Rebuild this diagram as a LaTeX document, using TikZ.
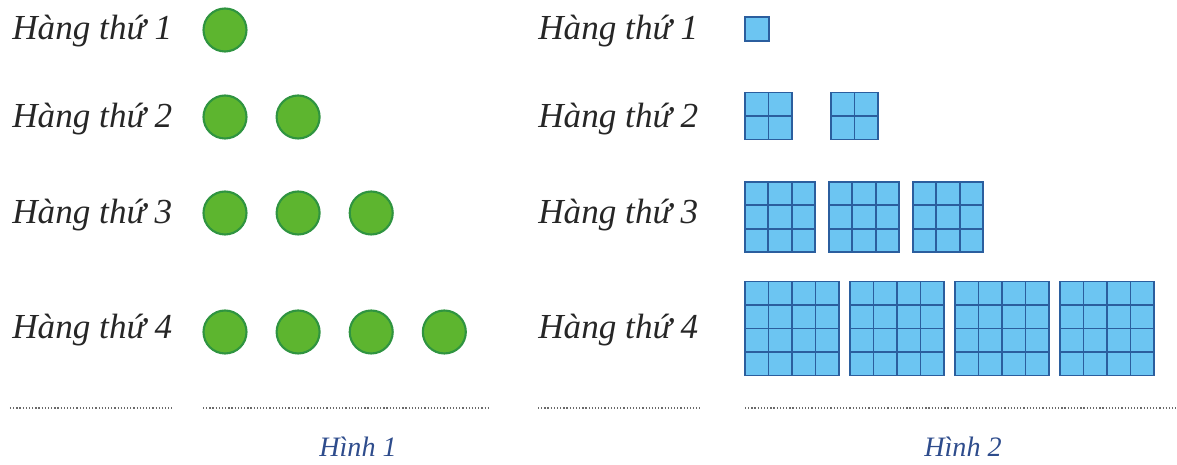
\documentclass[tikz,border=0pt]{standalone}
\usepackage{fontspec}
\setmainfont{Liberation Serif}
\usetikzlibrary{positioning}
\definecolor{dotgreen}{HTML}{5DB52F}
\definecolor{dotedge}{HTML}{2F9440}
\definecolor{tileblue}{HTML}{6CC5F2}
\definecolor{tileedge}{HTML}{2B5E9E}
\definecolor{captionblue}{HTML}{2E4C8C}
\definecolor{blankgrey}{HTML}{6A6A6A}
\tikzset{
  rowlabel/.style={anchor=base west, inner sep=0, text=black!85,
                   font=\fontsize{20}{24}\selectfont\itshape},
  greendot/.style={circle, draw=dotedge, fill=dotgreen, line width=1.2pt,
                   minimum size=0.86cm, inner sep=0},
  tile/.style={rectangle, draw=tileedge, fill=tileblue, line width=1.1pt,
               inner sep=0, outer sep=0},
  tileone/.style={tile, minimum size=0.48cm},
  tiletwo/.style={tile, minimum size=0.94cm},
  tilethree/.style={tile, minimum size=1.4cm},
  tilefour/.style={tile, minimum size=1.88cm},
  gridline/.style={draw=tileedge, line width=1.1pt},
  blank/.style={draw=blankgrey, line width=0.7pt, dash pattern=on 0.7pt off 1.1pt},
  caption/.style={font=\fontsize{16}{19}\selectfont\itshape, text=captionblue},
}
\begin{document}
\begin{tikzpicture}
  \useasboundingbox (0,0) rectangle (23.54,9.3);

  % --- Hinh 1: row labels and dots ---
  \node[rowlabel] (lrow1) at (0.24,8.5)  {Hàng thứ 1};
  \node[rowlabel] (lrow2) at (0.24,6.74) {Hàng thứ 2};
  \node[rowlabel] (lrow3) at (0.24,4.82) {Hàng thứ 3};
  \node[rowlabel] (lrow4) at (0.24,2.52) {Hàng thứ 4};

  \node[greendot] (c11) at (4.5,8.7) {};

  \node[greendot] (c21) at (4.5,6.96) {};
  \node[greendot, right=0.56cm of c21] (c22) {};

  \node[greendot] (c31) at (4.5,5.04) {};
  \node[greendot, right=0.56cm of c31] (c32) {};
  \node[greendot, right=0.56cm of c32] (c33) {};

  \node[greendot] (c41) at (4.5,2.66) {};
  \node[greendot, right=0.56cm of c41] (c42) {};
  \node[greendot, right=0.56cm of c42] (c43) {};
  \node[greendot, right=0.56cm of c43] (c44) {};

  % --- Hinh 2: row labels and tiles ---
  \node[rowlabel] (rrow1) at (10.76,8.5)  {Hàng thứ 1};
  \node[rowlabel] (rrow2) at (10.76,6.74) {Hàng thứ 2};
  \node[rowlabel] (rrow3) at (10.76,4.82) {Hàng thứ 3};
  \node[rowlabel] (rrow4) at (10.76,2.52) {Hàng thứ 4};

  \node[tileone] (b11) at (15.14,8.72) {};

  \node[tiletwo] (b21) at (15.37,6.98) {};
  \node[tiletwo, right=0.78cm of b21] (b22) {};

  \node[tilethree] (b31) at (15.6,4.96) {};
  \node[tilethree, right=0.28cm of b31] (b32) {};
  \node[tilethree, right=0.28cm of b32] (b33) {};

  \node[tilefour] (b41) at (15.84,2.73) {};
  \node[tilefour, right=0.22cm of b41] (b42) {};
  \node[tilefour, right=0.22cm of b42] (b43) {};
  \node[tilefour, right=0.22cm of b43] (b44) {};

  \foreach \b in {b21,b22}
    \draw[gridline, shift={(\b.south west)}] (0,0) grid[step=0.47] (0.94,0.94);
  \foreach \b in {b31,b32,b33}
    \draw[gridline, shift={(\b.south west)}] (0,0) grid[step=0.4667] (1.4,1.4);
  \foreach \b in {b41,b42,b43,b44}
    \draw[gridline, shift={(\b.south west)}] (0,0) grid[step=0.47] (1.88,1.88);

  % --- answer blanks ---
  \draw[blank] (0.2,1.14) -- (3.44,1.14);
  \draw[blank] (4.06,1.14) -- (9.76,1.14);
  \draw[blank] (10.76,1.14) -- (14.0,1.14);
  \draw[blank] (14.9,1.14) -- (23.54,1.14);

  % --- captions ---
  \node[caption] (hinh1) at (7.16,0.36) {Hình 1};
  \node[caption] (hinh2) at (19.26,0.36) {Hình 2};
\end{tikzpicture}
\end{document}
